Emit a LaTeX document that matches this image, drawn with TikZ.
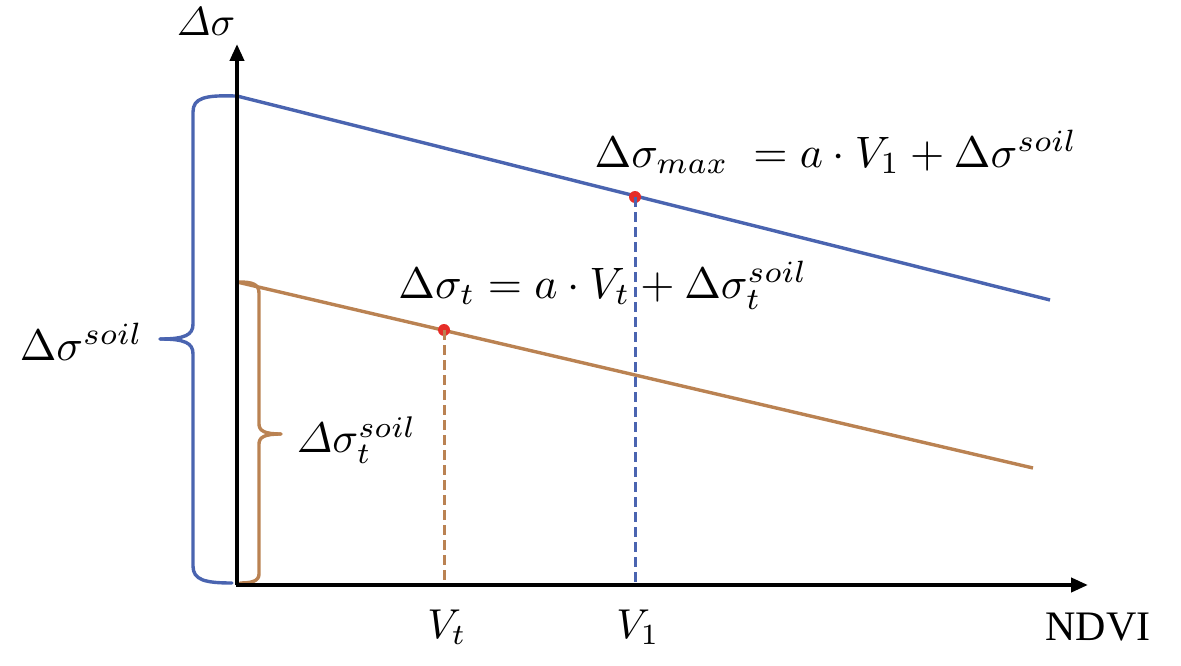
\documentclass[tikz,border=0pt]{standalone}
\usepackage{amsmath}
\usepackage{fontspec}
\newfontfamily\timesf{Liberation Serif}
\usetikzlibrary{arrows.meta}
\definecolor{cblue}{RGB}{74,100,176}
\definecolor{cbrown}{RGB}{186,130,82}
\definecolor{cred}{RGB}{230,45,40}
\tikzset{
  axis/.style={line width=4pt,-{Triangle[length=17pt,width=14pt]}},
  bluel/.style={cblue,line width=3.4pt},
  brownl/.style={cbrown,line width=3.4pt},
  vdash/.style={line width=3pt,dash pattern=on 10pt off 5pt},
  dot/.style={circle,fill=cred,inner sep=0pt,minimum size=12pt},
  lbl/.style={inner sep=0pt,scale=4.4},
  brace/.style={line width=3.4pt,line cap=round}
}
\begin{document}
\begin{tikzpicture}[x=1pt,y=-1pt]
\useasboundingbox (0,0) rectangle (1181,666);
% coordinates
\coordinate (O) at (237,585);
\coordinate (ytop) at (237,44);
\coordinate (xend) at (1088,585);
\coordinate (b0) at (237,96);
\coordinate (b1) at (1050,300);
\coordinate (r0) at (237,282);
\coordinate (r1) at (1033,468);
\coordinate (f1) at (635,585);
\coordinate (ft) at (444,585);
% data lines
\draw[bluel] (b0) -- (b1);
\draw[brownl] (r0) -- (r1);
\node[dot] (p1) at (635,197) {};
\node[dot] (pt) at (444,330) {};
\draw[cblue,vdash] (p1.center) -- (f1);
\draw[cbrown,vdash] (pt.center) -- (ft);
% braces
\draw[cblue,brace] (235,96) .. controls (205,95) and (193,98) .. (193,112) -- (193,324)
   .. controls (193,335) and (185,339) .. (160,339);
\draw[cblue,brace] (160,339) .. controls (185,339) and (193,343) .. (193,354) -- (193,566)
   .. controls (193,580) and (205,583) .. (232,583);
\draw[cbrown,brace] (239,282) .. controls (252,282) and (259,284) .. (259,293) -- (259,424)
   .. controls (259,431) and (265,434) .. (281,434);
\draw[cbrown,brace] (281,434) .. controls (265,434) and (259,437) .. (259,444) -- (259,574)
   .. controls (259,581) and (252,583) .. (240,583);
% axes
\draw[axis] (O) -- (ytop);
\draw[axis] (236,585) -- (xend);
% labels
\node[lbl,scale=0.92] (ylab) at (206,22) {$\varDelta\sigma$};
\node[lbl,anchor=east] (soil) at (144,342) {$\Delta\sigma^{soil}$};
\node[lbl,anchor=west,scale=0.97] (soilt) at (296,440) {$\varDelta\sigma_t^{soil}$};
\node[lbl] (emax) at (836,152) {$\Delta\sigma_{max}\;=a\cdot V_1+\Delta\sigma^{soil}$};
\node[lbl] (et) at (603,285) {$\Delta\sigma_t=a\cdot V_t+\Delta\sigma_t^{soil}$};
\node[lbl,scale=0.95] (vt) at (447,627) {$V_t$};
\node[lbl,scale=0.95] (v1) at (638,627) {$V_1$};
\node[inner sep=0pt,font=\timesf\fontsize{42}{48}\selectfont] (ndvi) at (1098,627) {NDVI};
\end{tikzpicture}
\end{document}
